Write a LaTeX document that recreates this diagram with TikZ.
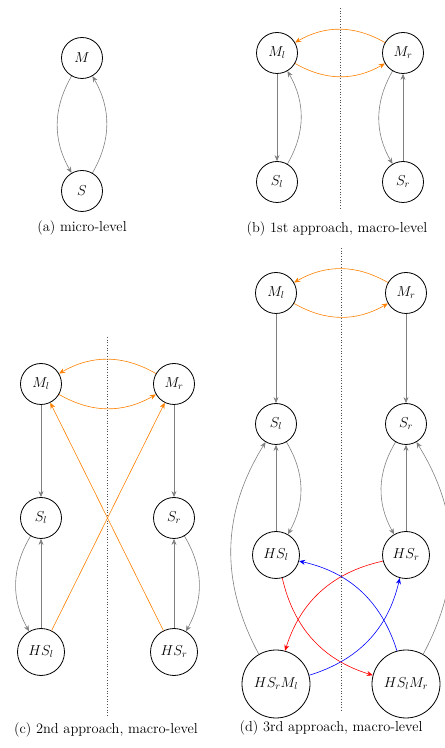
\documentclass[tikz,border=0pt]{standalone}
\usetikzlibrary{arrows.meta}
\begin{document}
\begin{tikzpicture}[x=1pt,y=1pt,
  st/.style={circle,draw,line width=0.8pt,inner sep=0pt,minimum size=41pt,font=\fontsize{14.4}{17}\selectfont},
  hs/.style={st,minimum size=47pt},
  big/.style={st,minimum size=68pt},
  ga/.style={color=gray,line width=0.6pt,-{Stealth[length=6pt,width=5pt,inset=2pt]}},
  oa/.style={ga,color=orange},
  ra/.style={ga,color=red},
  ba/.style={ga,color=blue},
  sep/.style={dotted,line width=0.7pt,black!70},
  captxt/.style={font=\fontsize{14.4}{17}\selectfont}]
\useasboundingbox (0,0) rectangle (445,748);
% (a)
\node[st] (aM) at (82,690) {$M$};
\node[st] (aS) at (82,557) {$S$};
\draw[ga] (aM) to[bend right=30] (aS);
\draw[ga] (aS) to[bend right=30] (aM);
\node[captxt] (ac) at (82,520) {(a) micro-level};
% (b)
\node[st] (bMl) at (277,695) {$M_l$};
\node[st] (bMr) at (403,695) {$M_r$};
\node[st] (bSl) at (277,566) {$S_l$};
\node[st] (bSr) at (403,566) {$S_r$};
\coordinate (bt) at (340,740);
\coordinate (bb) at (340,540);
\draw[sep] (bt) -- (bb);
\draw[ga] (bMl) -- (bSl);
\draw[ga] (bSl) to[bend right=30] (bMl);
\draw[ga] (bMr) to[bend right=30] (bSr);
\draw[ga] (bSr) -- (bMr);
\draw[oa] (bMr) to[bend right=30] (bMl);
\draw[oa] (bMl) to[bend right=30] (bMr);
\node[captxt] (bc) at (337,519) {(b) 1st approach, macro-level};
% (c)
\node[st] (cMl) at (41,364) {$M_l$};
\node[st] (cMr) at (174,364) {$M_r$};
\node[st] (cSl) at (41,230) {$S_l$};
\node[st] (cSr) at (174,230) {$S_r$};
\node[hs] (cHl) at (41,96) {$HS_l$};
\node[hs] (cHr) at (174,96) {$HS_r$};
\coordinate (ct) at (107,411);
\coordinate (cb) at (107,31);
\draw[sep] (ct) -- (cb);
\draw[oa] (cMr) to[bend right=30] (cMl);
\draw[oa] (cMl) to[bend right=30] (cMr);
\draw[ga] (cMl) -- (cSl);
\draw[ga] (cMr) -- (cSr);
\draw[ga] (cSl) to[bend right=30] (cHl);
\draw[ga] (cHl) -- (cSl);
\draw[ga] (cSr) to[bend left=30] (cHr);
\draw[ga] (cHr) -- (cSr);
\draw[oa] (cHl) -- (cMr);
\draw[oa] (cHr) -- (cMl);
\node[captxt] (cc) at (106,18) {(c) 2nd approach, macro-level};
% (d)
\node[st] (dMl) at (276,455) {$M_l$};
\node[st] (dMr) at (406,455) {$M_r$};
\node[st] (dSl) at (276,324) {$S_l$};
\node[st] (dSr) at (406,324) {$S_r$};
\node[hs] (dHl) at (276,193) {$HS_l$};
\node[hs] (dHr) at (406,193) {$HS_r$};
\node[big] (dHrMl) at (276,64) {$HS_rM_l$};
\node[big] (dHlMr) at (406,64) {$HS_lM_r$};
\coordinate (dt) at (341,500);
\coordinate (db) at (341,38);
\draw[sep] (dt) -- (db);
\draw[oa] (dMr) to[bend right=30] (dMl);
\draw[oa] (dMl) to[bend right=30] (dMr);
\draw[ga] (dMl) -- (dSl);
\draw[ga] (dMr) -- (dSr);
\draw[ga] (dSl) to[bend left=30] (dHl);
\draw[ga] (dHl) -- (dSl);
\draw[ga] (dSr) to[bend right=30] (dHr);
\draw[ga] (dHr) -- (dSr);
\draw[ga] (dHrMl) to[bend left=30] (dSl);
\draw[ga] (dHlMr) to[bend right=30] (dSr);
\draw[ra] (dHl) to[bend right=30] (dHlMr);
\draw[ra] (dHr) to[bend right=30] (dHrMl);
\draw[ba] (dHrMl) to[bend right=30] (dHr);
\draw[ba] (dHlMr) to[bend right=30] (dHl);
\node[captxt] (dc) at (331,20) {(d) 3rd approach, macro-level};
\end{tikzpicture}
\end{document}
